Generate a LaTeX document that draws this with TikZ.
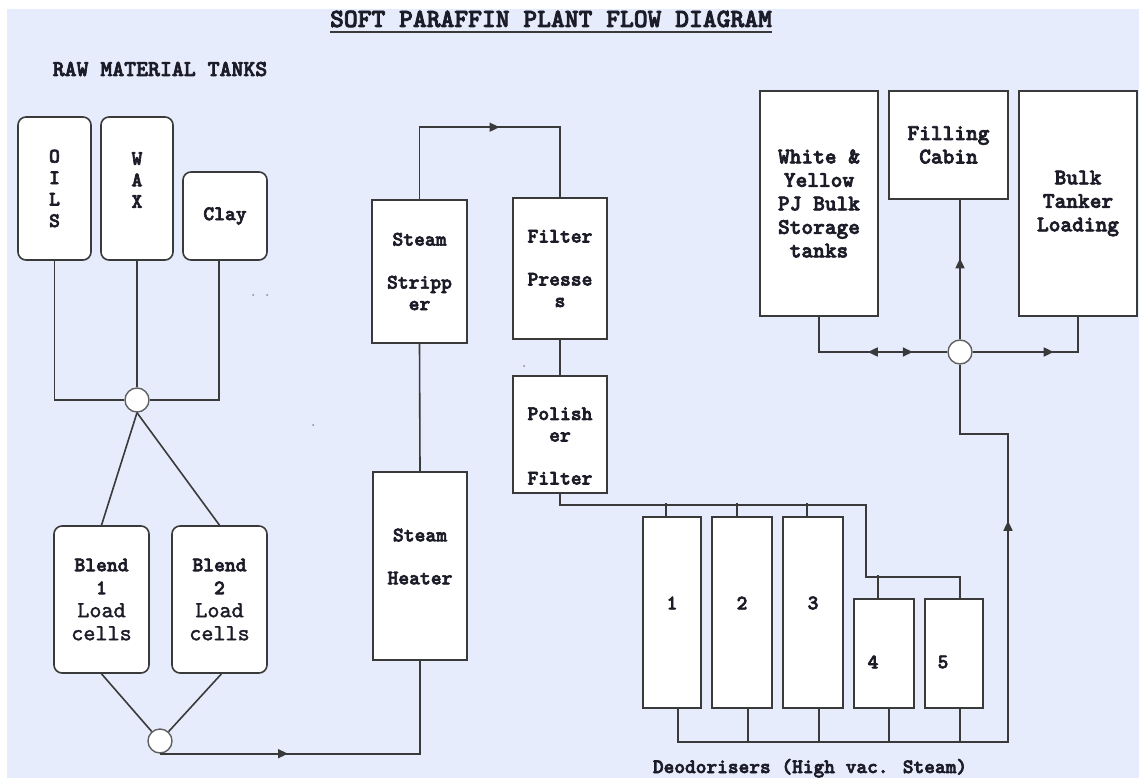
\documentclass[tikz,border=0pt]{standalone}
\usepackage{fontspec}
\newfontfamily\courfont[FakeBold=3]{lmmonolt10-bold.otf}
\newfontfamily\courthin[FakeBold=1.5]{lmmono10-regular.otf}
\usetikzlibrary{positioning, arrows.meta, decorations.markings}
\definecolor{bgblue}{RGB}{230,236,252}
\definecolor{pipegrey}{RGB}{58,58,58}
\definecolor{inkdark}{RGB}{28,28,40}
\newcommand\boxfont{\fontsize{20.6}{21.5}\selectfont\courfont}
\newcommand\storefont{\fontsize{22.3}{23.5}\selectfont\courfont}
\newcommand\blendfont{\fontsize{20.6}{23}\selectfont\courfont}
\newcommand\loadfont{\fontsize{23}{23}\selectfont\courthin}
\newcommand\ttlfont{\fontsize{26.3}{28}\selectfont\courfont}
\newcommand\rawfont{\fontsize{22.7}{24}\selectfont\courfont}
\newcommand\deofont{\fontsize{20.4}{22}\selectfont\courfont}
\tikzset{
  pipe/.style={draw=pipegrey, line width=1.6pt},
  tank/.style={draw=pipegrey, line width=1.6pt, fill=white, rounded corners=8pt,
    inner sep=0pt, align=center, font=\boxfont, text=inkdark},
  vessel/.style={draw=pipegrey, line width=1.6pt, fill=white,
    inner sep=0pt, align=center, font=\boxfont, text=inkdark},
  boxtxt/.style={font=\boxfont, align=center, inner sep=0pt, text=inkdark},
  junc/.style={circle, draw=pipegrey!80, line width=1.4pt, fill=white,
    minimum size=24pt, inner sep=0pt},
  flow/.style={pipe, postaction={decorate},
    decoration={markings, mark=at position #1 with {\arrow{>}}}}}

\begin{document}
\begin{tikzpicture}[x=1pt, y=-1pt, >={Triangle[length=10pt,width=9pt]}]
  \useasboundingbox (0,0) rectangle (1139,778);
  \fill[bgblue] (7,9) rectangle (1139,778);
  % headings
  \node[font=\ttlfont, text=inkdark, anchor=base, inner sep=0pt] (title) at (551,27) {SOFT PARAFFIN PLANT FLOW DIAGRAM};
  \draw[pipegrey, line width=1.4pt] ([yshift=-5pt]title.base west) -- ([yshift=-5pt]title.base east);
  \node[font=\rawfont, text=inkdark, anchor=base] (rawlbl) at (160,76) {RAW MATERIAL TANKS};
  % raw material tanks
  \node[tank, minimum width=73pt, minimum height=143pt] (oils) at (54.5,188.5) {O\\I\\L\\S};
  \node[tank, minimum width=72pt, minimum height=143pt,
    label={[boxtxt, yshift=8.5pt]center:W\\A\\X}] (wax) at (137,188.5) {};
  \node[tank, minimum width=84pt, minimum height=88pt] (clay) at (225,216) {Clay};
  \node[junc] (mix) at (137,400) {};
  \node[tank, font=\blendfont, minimum width=95pt, minimum height=147pt] (blend1) at (101.5,599.5)
    {Blend\\1\\{\loadfont Load\hspace*{14pt}}\\{\loadfont cells}};
  \node[tank, font=\blendfont, minimum width=95pt, minimum height=147pt] (blend2) at (219.5,599.5)
    {Blend\\2\\{\loadfont Load}\\{\loadfont cells}};
  \node[junc] (blendjn) at (160,741) {};
  % heater, stripper, filters
  \node[vessel, minimum width=94pt, minimum height=188pt,
    label={[boxtxt, yshift=9.5pt]center:Steam\\[21.5pt]Heater}] (heater) at (420,566) {};
  \node[vessel, minimum width=95pt, minimum height=143pt] (stripper) at (419.5,271.5) {Steam\\[21.5pt]Stripp\\er};
  \node[vessel, minimum width=94pt, minimum height=141pt] (presses) at (560,268.5) {Filter\\[21.5pt]Presse\\s};
  \node[vessel, minimum width=94pt, minimum height=117pt,
    label={[boxtxt, yshift=-11.5pt]center:Polish\\er\\[21.5pt]Filter}] (polisher) at (560,434.5) {};
  % deodorisers
  \node[vessel, minimum width=58pt, minimum height=191pt,
    label={[boxtxt, yshift=9.5pt]center:1}] (d1) at (672,612.5) {};
  \node[vessel, minimum width=60pt, minimum height=191pt,
    label={[boxtxt, yshift=9.5pt]center:2}] (d2) at (742,612.5) {};
  \node[vessel, minimum width=60pt, minimum height=191pt,
    label={[boxtxt, yshift=9.5pt]center:3}] (d3) at (813,612.5) {};
  \node[vessel, minimum width=60pt, minimum height=109pt,
    label={[boxtxt, xshift=-11pt, yshift=-8.5pt]center:4}] (d4) at (884,653.5) {};
  \node[vessel, minimum width=58pt, minimum height=109pt,
    label={[boxtxt, xshift=-11pt, yshift=-8.5pt]center:5}] (d5) at (954,653.5) {};
  \node[font=\deofont, text=inkdark, anchor=base] (deolbl) at (810,773) {Deodorisers (High vac. Steam)};
  % storage and dispatch
  \node[vessel, font=\storefont, minimum width=118pt, minimum height=225pt] (wy) at (819,203.5)
    {White \&\\Yellow\\PJ Bulk\\Storage\\tanks};
  \node[vessel, font=\storefont, minimum width=119pt, minimum height=108pt] (cabin) at (948.5,145) {Filling\\Cabin};
  \node[vessel, font=\storefont, minimum width=118pt, minimum height=225pt] (tanker) at (1078,203.5)
    {Bulk\\Tanker\\Loading};
  \node[junc] (outjn) at (960,352) {};
  % pipes
  \draw[pipe] (oils.south) |- (mix.west);
  \draw[pipe] (wax.south) -- (mix.north);
  \draw[pipe] ([xshift=-6pt]clay.south) |- (mix.east);
  \draw[pipe] (mix.south) -- (blend1.north);
  \draw[pipe] (mix.south) -- (blend2.north);
  \draw[pipe] (blend1.south) -- (blendjn);
  \draw[pipe] ([xshift=2pt]blend2.south) -- (blendjn);
  \draw[flow=128pt] (blendjn.south) -| (heater.south);
  \draw[pipe] (heater.north) -- (stripper.south);
  \draw[flow=152pt] (stripper.north) -- ++(0,-72) -| (presses.north);
  \draw[pipe] (presses.south) -- (polisher.north);
  \draw[pipe] (polisher.south) -- ++(0,11) -| ++(306,72) -| ([xshift=6pt]d5.north);
  \draw[pipe] ([xshift=-6pt]d1.north) -- ++(0,-13);
  \draw[pipe] ([xshift=-5pt]d2.north) -- ++(0,-13);
  \draw[pipe] ([xshift=-6pt]d3.north) -- ++(0,-13);
  \draw[pipe] ([xshift=-6pt]d4.north) -- ++(0,-23);
  \draw[flow=584pt] ([xshift=6pt]d1.south) -- ++(0,33) -- ++(330,0) -- ++(0,-308) -| (outjn.south);
  \draw[pipe] ([xshift=6pt]d2.south) -- ++(0,33);
  \draw[pipe] ([xshift=6pt]d3.south) -- ++(0,33);
  \draw[pipe] ([xshift=5pt]d4.south) -- ++(0,33);
  \draw[pipe] ([xshift=6pt]d5.south) -- ++(0,33);
  \draw[pipe, postaction={decorate}, decoration={markings,
      mark=at position 84pt with {\arrowreversed{>}},
      mark=at position 129pt with {\arrow{>}}}] (wy.south) |- (outjn.west);
  \draw[flow=81pt] (outjn.north) -- (outjn.north |- cabin.south);
  \draw[flow=81pt] (outjn.east) -| (tanker.south);
  % stray marks
  \fill[pipegrey!60] (253,295) circle (1pt) (267,295) circle (1pt) (313,425) circle (1pt) (524,366) circle (1pt);
\end{tikzpicture}
\end{document}
